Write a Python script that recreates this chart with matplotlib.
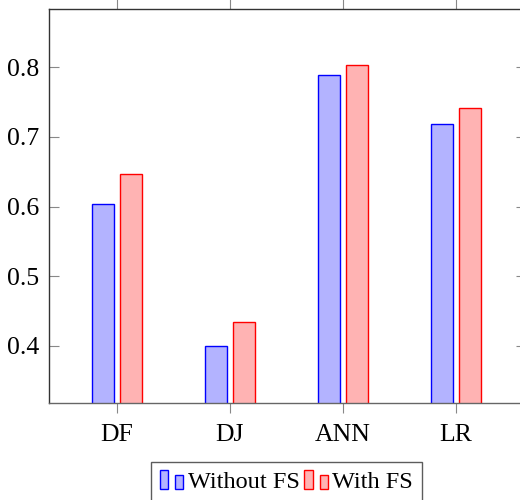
import matplotlib
matplotlib.use("Agg")
import matplotlib.pyplot as plt
import numpy as np
from matplotlib.patches import Rectangle
from matplotlib.legend_handler import HandlerBase

categories = ["DF", "DJ", "ANN", "LR"]
without_fs = [0.604, 0.400, 0.789, 0.719]
with_fs = [0.646, 0.435, 0.803, 0.742]
yticks = [0.4, 0.5, 0.6, 0.7, 0.8]
series_labels = ["Without FS", "With FS"]

plt.rcParams['font.family'] = ['Liberation Serif', 'DejaVu Serif']
plt.rcParams['mathtext.fontset'] = 'stix'

W, H = 520, 500
fig = plt.figure(figsize=(W / 100, H / 100), dpi=100)
left, right, top, bottom = 49, 526, 9, 403
ax = fig.add_axes([left / W, 1 - bottom / H, (right - left) / W, (bottom - top) / H])

x = np.arange(len(categories))
px_per_unit = 113.0
bw = 22 / px_per_unit
shift = 14 / px_per_unit
blue_fill = (179/255, 179/255, 1.0)
red_fill = (1.0, 179/255, 179/255)
ax.bar(x - shift, without_fs, width=bw, bottom=0, color=blue_fill, edgecolor='blue', linewidth=1.0, label=series_labels[0])
ax.bar(x + shift, with_fs, width=bw, bottom=0, color=red_fill, edgecolor='red', linewidth=1.0, label=series_labels[1])

ax.set_xlim(-0.6, 3.62)
ax.set_ylim(0.3182, 0.8833)
ax.set_xticks(x)
ax.set_xticklabels(categories)
ax.set_yticks(yticks)
ax.set_yticklabels([f"{v:.1f}" for v in yticks])
fs = 18.5
ax.tick_params(axis='x', direction='out', length=7, width=0.8, color='#888888', top=True, bottom=True, labelsize=fs, pad=8)
ax.tick_params(axis='y', direction='in', length=7, width=0.8, color='#888888', left=True, right=True, labelsize=fs, pad=7)
for s in ax.spines.values():
    s.set_color('#333333')
    s.set_linewidth(1.0)
ax.spines['bottom'].set_color('#666666')
ax.spines['right'].set_visible(False)


class TwoBarHandler(HandlerBase):
    def __init__(self, fc, ec):
        super().__init__()
        self.fc = fc
        self.ec = ec

    def create_artists(self, legend, orig_handle, xdescent, ydescent, width, height, fontsize, trans):
        w = width * 0.35
        y0 = -ydescent - height * 0.08
        r1 = Rectangle((-xdescent, y0), w, height * 1.12, facecolor=self.fc, edgecolor=self.ec, linewidth=1.0, transform=trans)
        r2 = Rectangle((-xdescent + width * 0.65, y0), w, height * 0.84, facecolor=self.fc, edgecolor=self.ec, linewidth=1.0, transform=trans)
        return [r1, r2]


handles, labels = ax.get_legend_handles_labels()
leg = ax.legend(handles, labels, loc='upper center', bbox_to_anchor=((286.5 - left) / (right - left), -(462 - 403) / (bottom - top)),
                ncol=2, frameon=True, fancybox=False, edgecolor='#333333', fontsize=17.5,
                handler_map={handles[0]: TwoBarHandler(blue_fill, 'blue'), handles[1]: TwoBarHandler(red_fill, 'red')},
                handlelength=0.95, handletextpad=0.2, columnspacing=0.2, borderpad=0.36, borderaxespad=0)
leg.get_frame().set_linewidth(1.0)

fig.savefig("out.png", dpi=100)
